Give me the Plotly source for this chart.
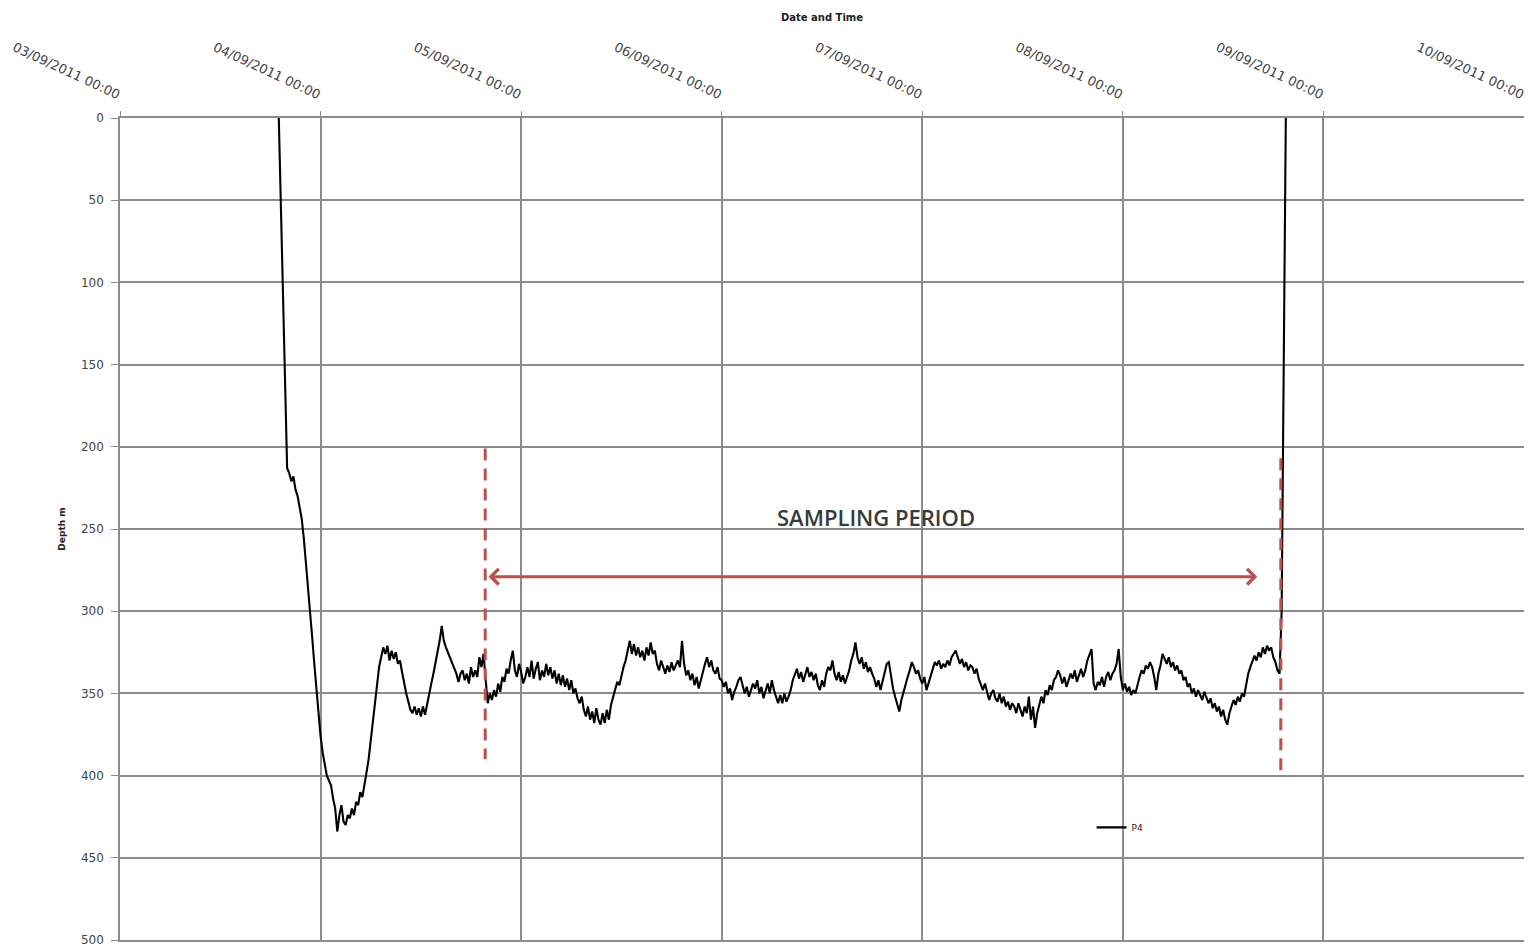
import pandas as pd
import plotly.graph_objects as go

# ---------------- data ----------------
series_name = "P4"
start_time = "2011-09-03 19:00"
step = "15min"
# depth (m), one value every 15 minutes from 03/09/2011 19:00 (one row = 3 hours)
depth_m = [
    0, 55, 110, 165, 213, 216, 221, 218, 226, 230, 236, 244,
    256, 270, 286, 300, 316, 332, 348, 362, 376, 386, 394, 400,
    403, 406, 414, 420, 434, 424, 418, 428, 430, 424, 426, 420,
    424, 416, 418, 410, 413, 404, 398, 390, 378, 366, 354, 344,
    334, 328, 322, 326, 321, 330, 324, 329, 325, 332, 330, 337,
    344, 350, 355, 360, 362, 358, 363, 359, 364, 358, 363, 356,
    350, 344, 338, 332, 326, 318, 309, 318, 322, 325, 328, 332,
    334, 338, 343, 338, 336, 342, 338, 344, 334, 340, 336, 340,
    328, 334, 326, 340, 356, 350, 354, 348, 352, 344, 349, 340,
    343, 335, 338, 330, 324, 336, 340, 332, 337, 344, 340, 334,
    340, 330, 341, 335, 331, 342, 336, 340, 332, 339, 334, 341,
    336, 344, 338, 345, 339, 346, 341, 348, 342, 350, 347, 353,
    356, 352, 360, 364, 358, 366, 361, 368, 359, 366, 369, 362,
    368, 360, 366, 357, 352, 348, 343, 345, 339, 334, 330, 324,
    318, 326, 320, 327, 322, 328, 324, 330, 322, 327, 319, 326,
    324, 332, 336, 330, 334, 338, 333, 337, 331, 336, 333, 330,
    334, 318, 332, 339, 336, 342, 338, 345, 340, 347, 342, 336,
    332, 328, 334, 330, 336, 338, 334, 341, 342, 346, 343, 350,
    347, 354, 349, 346, 342, 340, 345, 350, 346, 352, 348, 344,
    347, 342, 350, 346, 353, 349, 344, 350, 342, 348, 352, 356,
    351, 356, 350, 355, 352, 348, 342, 338, 335, 341, 337, 343,
    339, 334, 340, 337, 342, 338, 345, 348, 342, 346, 338, 334,
    336, 330, 338, 342, 337, 343, 339, 344, 340, 336, 330, 326,
    319, 328, 332, 328, 335, 331, 337, 334, 338, 341, 346, 342,
    348, 343, 338, 332, 331, 340, 347, 352, 356, 361, 354, 349,
    345, 340, 336, 331, 334, 338, 336, 341, 344, 340, 348, 344,
    340, 335, 331, 333, 330, 335, 332, 334, 330, 333, 328, 326,
    324, 328, 332, 329, 334, 331, 336, 333, 334, 338, 335, 341,
    344, 348, 344, 350, 354, 350, 348, 353, 355, 350, 356, 352,
    358, 355, 360, 356, 358, 362, 356, 360, 364, 358, 362, 352,
    366, 358, 371, 362, 356, 352, 356, 348, 351, 345, 348, 342,
    340, 336, 339, 344, 340, 346, 342, 338, 341, 336, 343, 339,
    335, 340, 336, 330, 327, 323, 344, 348, 343, 345, 340, 346,
    340, 337, 342, 338, 336, 332, 323, 340, 348, 344, 349, 346,
    351, 348, 350, 344, 340, 336, 338, 333, 335, 331, 334, 340,
    348, 338, 333, 326, 329, 332, 328, 334, 331, 336, 333, 338,
    336, 342, 340, 346, 344, 350, 347, 352, 348, 351, 354, 349,
    352, 356, 353, 359, 356, 361, 358, 364, 360, 366, 369, 362,
    358, 354, 357, 352, 355, 350, 352, 344, 338, 334, 330, 327,
    330, 325, 328, 322, 326, 321, 324, 322, 328, 331, 336, 338,
    300, 150, 0,
]

sampling_start = "2011-09-04 19:42"
sampling_end = "2011-09-08 18:54"
start_marker_depths = [201, 390]
end_marker_depths = [207, 397]
arrow_depth = 279
arrow_from = "2011-09-04 19:55"
arrow_to = "2011-09-08 16:05"
label_text = "SAMPLING PERIOD"
label_time = "2011-09-06 18:30"
label_depth = 243

x_range = ["2011-09-03 00:00", "2011-09-10 00:00"]
y_ticks = [0, 50, 100, 150, 200, 250, 300, 350, 400, 450, 500]

times = pd.date_range(start_time, periods=len(depth_m), freq=step)

# ---------------- figure ----------------
red = "#bf4f4c"
grid = "#8c8c8c"

fig = go.Figure()
fig.add_trace(go.Scatter(
    x=times, y=depth_m, mode="lines", name=series_name,
    line=dict(color="black", width=2.1),
))

for t, ds in ((sampling_start, start_marker_depths), (sampling_end, end_marker_depths)):
    fig.add_shape(type="line", xref="x", yref="y", x0=t, x1=t, y0=ds[0], y1=ds[1],
                  line=dict(color=red, width=3, dash="12px,8px"), layer="above")

fig.add_annotation(
    x=arrow_to, y=arrow_depth, ax=arrow_from, ay=arrow_depth,
    xref="x", yref="y", axref="x", ayref="y",
    text="", showarrow=True, arrowhead=4, startarrowhead=4, arrowside="end+start",
    arrowwidth=3, arrowsize=1, startarrowsize=1, arrowcolor=red,
)
fig.add_annotation(
    x=label_time, y=label_depth, xref="x", yref="y", text=label_text,
    showarrow=False, font=dict(family="Open Sans", size=22, color="#3a3a3a", weight=600),
)

fig.update_layout(
    width=1524, height=939,
    margin=dict(l=112, r=8, t=110, b=7),
    paper_bgcolor="white", plot_bgcolor="white",
    showlegend=True,
    legend=dict(x=0.692, y=0.137, xanchor="left", yanchor="middle",
                bgcolor="rgba(0,0,0,0)", font=dict(family="DejaVu Sans", size=9, color="#222"),
                itemwidth=30),
    xaxis=dict(
        side="top", type="date", range=x_range,
        tick0=x_range[0], dtick=86400000, tickformat="%d/%m/%Y %H:%M",
        tickangle=25, tickfont=dict(family="DejaVu Sans", size=13, color="#444"),
        ticklabelstandoff=6,
        showgrid=True, gridcolor=grid, gridwidth=1.5,
        showline=True, linecolor=grid, linewidth=1.5, mirror=True,
        ticks="outside", ticklen=5, tickcolor=grid,
        automargin=False, zeroline=False,
        title=dict(text="<b>Date and Time</b>", font=dict(family="DejaVu Sans", size=10, color="#222"),
                   standoff=16),
    ),
    yaxis=dict(
        range=[500, 0], tickvals=y_ticks,
        tickfont=dict(family="DejaVu Sans", size=12, color="#444"),
        ticklabelstandoff=5, ticklabeloverflow="allow",
        showgrid=True, gridcolor=grid, gridwidth=1.5,
        showline=True, linecolor=grid, linewidth=1.5, mirror=True,
        ticks="outside", ticklen=7, tickcolor=grid,
        automargin=False, zeroline=False,
        title=dict(text="<b>Depth m</b>", font=dict(family="DejaVu Sans", size=9, color="#222"),
                   standoff=14),
    ),
)

fig.write_html("out.html")
